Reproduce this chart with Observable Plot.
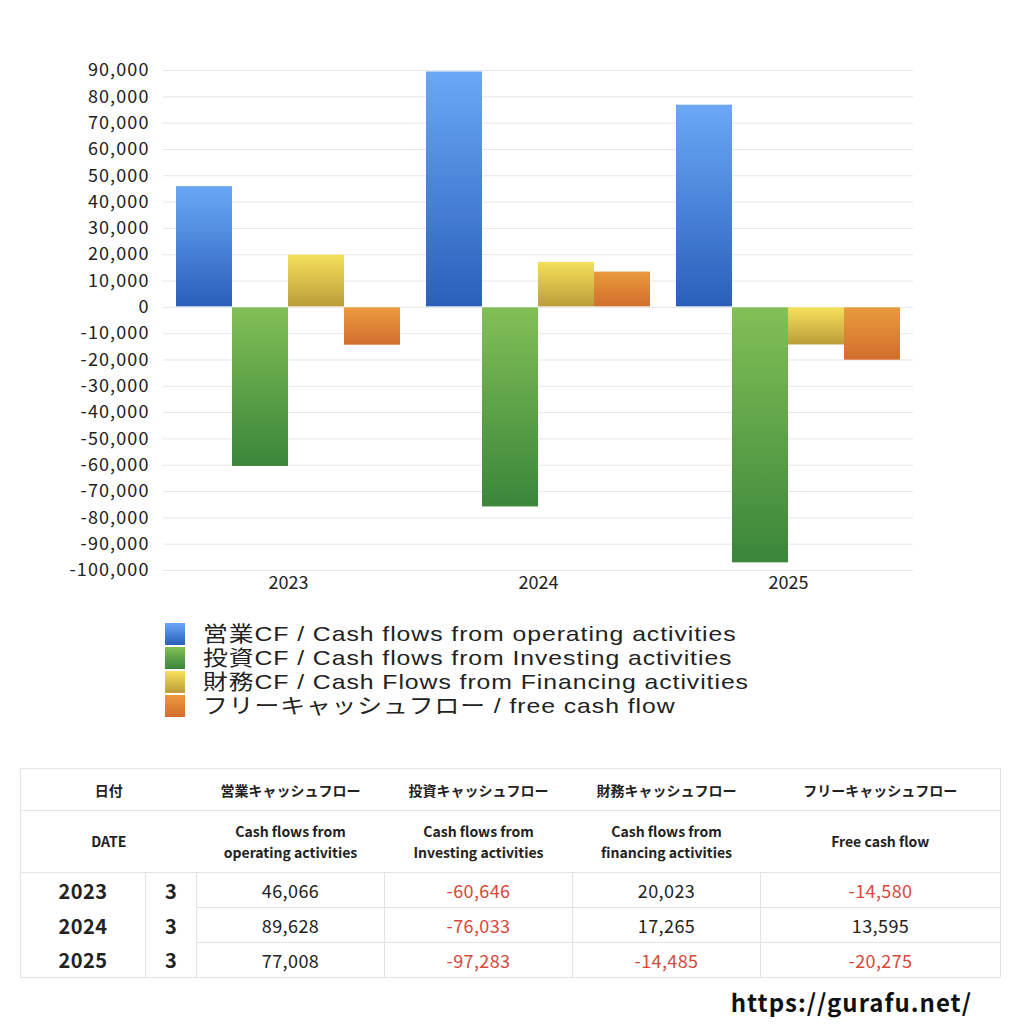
<!DOCTYPE html>
<html>
<head>
<meta charset="utf-8">
<script src="https://cdn.jsdelivr.net/npm/d3@7"></script>
<script src="https://cdn.jsdelivr.net/npm/@observablehq/plot@0.6"></script>
<style>
  html, body { margin: 0; padding: 0; background: #fff; }
  body { width: 1024px; height: 1024px; position: relative; overflow: hidden;
         font-family: "Noto Sans CJK JP", "Noto Sans", sans-serif; color: #222; }
  #chart { position: absolute; left: 0; top: 0; }
  #legend { position: absolute; left: 165px; top: 622px; }
  .lrow { display: flex; align-items: center; height: 24px; }
  .sw { width: 20px; height: 22px; margin-right: 18px; flex: none; }
  .lt { font-family: "Liberation Sans", "Noto Sans CJK JP", sans-serif; font-size: 21px; line-height: 24px;
        letter-spacing: 0.8px; color: #222; white-space: nowrap;
        transform: scaleX(1.18); transform-origin: 0 50%; }
  table { position: absolute; left: 20px; top: 768px; width: 980px; border-collapse: collapse;
          table-layout: fixed; border: 1px solid #e3e3e3; }
  td { padding: 0; text-align: center; }
  .h1 td { height: 41px; font-size: 14px; font-weight: bold; border-bottom: 1px solid #e3e3e3; }
  .h2 td { height: 61px; font-size: 14px; font-weight: 600; line-height: 21px; border-bottom: 1px solid #e3e3e3; }
  .d td { height: 34px; font-size: 18px; letter-spacing: 0.4px; }
  .d td.yr { font-size: 20px; font-weight: bold; border-right: 1px solid #e3e3e3; }
  .d td.mo { font-size: 20px; font-weight: bold; border-right: 1px solid #e3e3e3; }
  .d td.v { border-right: 1px solid #e3e3e3; border-bottom: 1px solid #e3e3e3; }
  .neg { color: #d6493b; }
  #footer { position: absolute; right: 52px; top: 984px; font-size: 24px; font-weight: 600;
            letter-spacing: 1px; color: #111; font-family: "Noto Sans CJK JP", "Noto Sans", sans-serif; }
</style>
</head>
<body>
<div id="chart"></div>
<div id="legend"></div>
<div id="tablewrap"></div>
<div id="footer">https://gurafu.net/</div>
<script>
// ---- data ----
const years = ["2023", "2024", "2025"];
const months = ["3", "3", "3"];
const seriesKeys = ["operating", "investing", "financing", "free"];
const seriesLabels = [
  "営業CF / Cash flows from operating activities",
  "投資CF / Cash flows from Investing activities",
  "財務CF / Cash Flows from Financing activities",
  "フリーキャッシュフロー / free cash flow"
];
const operatingCF = [46066, 89628, 77008];
const investingCF = [-60646, -76033, -97283];
const financingCF = [20023, 17265, -14485];
const freeCF = [-14580, 13595, -20275];
const yTicks = [90000, 80000, 70000, 60000, 50000, 40000, 30000, 20000, 10000, 0,
  -10000, -20000, -30000, -40000, -50000, -60000, -70000, -80000, -90000, -100000];
const tableHeadJa = ["日付", "営業キャッシュフロー", "投資キャッシュフロー", "財務キャッシュフロー", "フリーキャッシュフロー"];
const tableHeadEn = ["DATE", "Cash flows from<br>operating activities", "Cash flows from<br>Investing activities",
  "Cash flows from<br>financing activities", "Free cash flow"];

// gradient colours (top, bottom)
const gradients = [
  ["#6aa8f6", "#2a60bb"],
  ["#82bf56", "#3a863a"],
  ["#f5e05a", "#bb9c3a"],
  ["#e99a3c", "#d26e2e"]
];

const seriesValues = [operatingCF, investingCF, financingCF, freeCF];
const data = years.flatMap((y, i) => seriesKeys.map((k, j) => ({ year: y, series: k, value: seriesValues[j][i] })));

const fmt = d => d.toLocaleString("en-US");

const plot = Plot.plot({
  width: 1024,
  height: 600,
  marginLeft: 163,
  marginRight: 111,
  marginTop: 70,
  marginBottom: 30,
  style: { fontFamily: '"Noto Sans CJK JP", "Noto Sans", sans-serif', fontSize: "18px", color: "#222", background: "transparent" },
  fx: { domain: years, padding: 0, label: null, axis: "bottom", tickSize: 0, tickPadding: 6 },
  x: { domain: seriesKeys, paddingInner: 0, paddingOuter: 0.2, axis: null },
  y: { domain: [-100000, 90000], ticks: yTicks, tickFormat: fmt, grid: true, tickSize: 0, tickPadding: 14, label: null },
  color: { domain: seriesKeys, range: seriesKeys.map((k, j) => `url(#grad${j})`) },
  marks: [
    Plot.barY(data, { fx: "year", x: "series", y: "value", fill: "series", inset: 0, insetTop: 0.5, insetBottom: 0.5 })
  ]
});

// gradients
const svg = d3.select(plot);
const defs = svg.insert("defs", ":first-child");
gradients.forEach((g, j) => {
  const lg = defs.append("linearGradient").attr("id", `grad${j}`)
    .attr("x1", 0).attr("y1", 0).attr("x2", 0).attr("y2", 1);
  lg.append("stop").attr("offset", "0%").attr("stop-color", g[0]);
  lg.append("stop").attr("offset", "100%").attr("stop-color", g[1]);
});
svg.selectAll("[aria-label='y-grid'] line, [aria-label='y-grid'] path").attr("stroke", "#e6e6e6").attr("stroke-opacity", 1);
svg.selectAll("[aria-label='y-axis tick label'] text").style("letter-spacing", "1.1px");
document.getElementById("chart").appendChild(plot);

// legend
const legend = d3.select("#legend");
seriesLabels.forEach((lab, j) => {
  const row = legend.append("div").attr("class", "lrow");
  row.append("div").attr("class", "sw")
    .style("background", `linear-gradient(to bottom, ${gradients[j][0]}, ${gradients[j][1]})`);
  row.append("div").attr("class", "lt").text(lab);
});

// table
let html = '<table><colgroup><col style="width:125px"><col style="width:51px"><col style="width:188px"><col style="width:188px"><col style="width:188px"><col style="width:240px"></colgroup>';
html += '<tr class="h1"><td colspan="2">' + tableHeadJa[0] + '</td>' + tableHeadJa.slice(1).map(t => '<td>' + t + '</td>').join('') + '</tr>';
html += '<tr class="h2"><td colspan="2">' + tableHeadEn[0] + '</td>' + tableHeadEn.slice(1).map(t => '<td>' + t + '</td>').join('') + '</tr>';
years.forEach((y, i) => {
  html += '<tr class="d"><td class="yr">' + y + '</td><td class="mo">' + months[i] + '</td>';
  seriesValues.forEach((vals, j) => {
    const v = vals[i];
    html += '<td class="v' + (v < 0 ? ' neg' : '') + '"' + (i === years.length - 1 ? ' style="border-bottom:none"' : '') + '>' + fmt(v) + '</td>';
  });
  html += '</tr>';
});
html += '</table>';
document.getElementById("tablewrap").innerHTML = html;
</script>
</body>
</html>
